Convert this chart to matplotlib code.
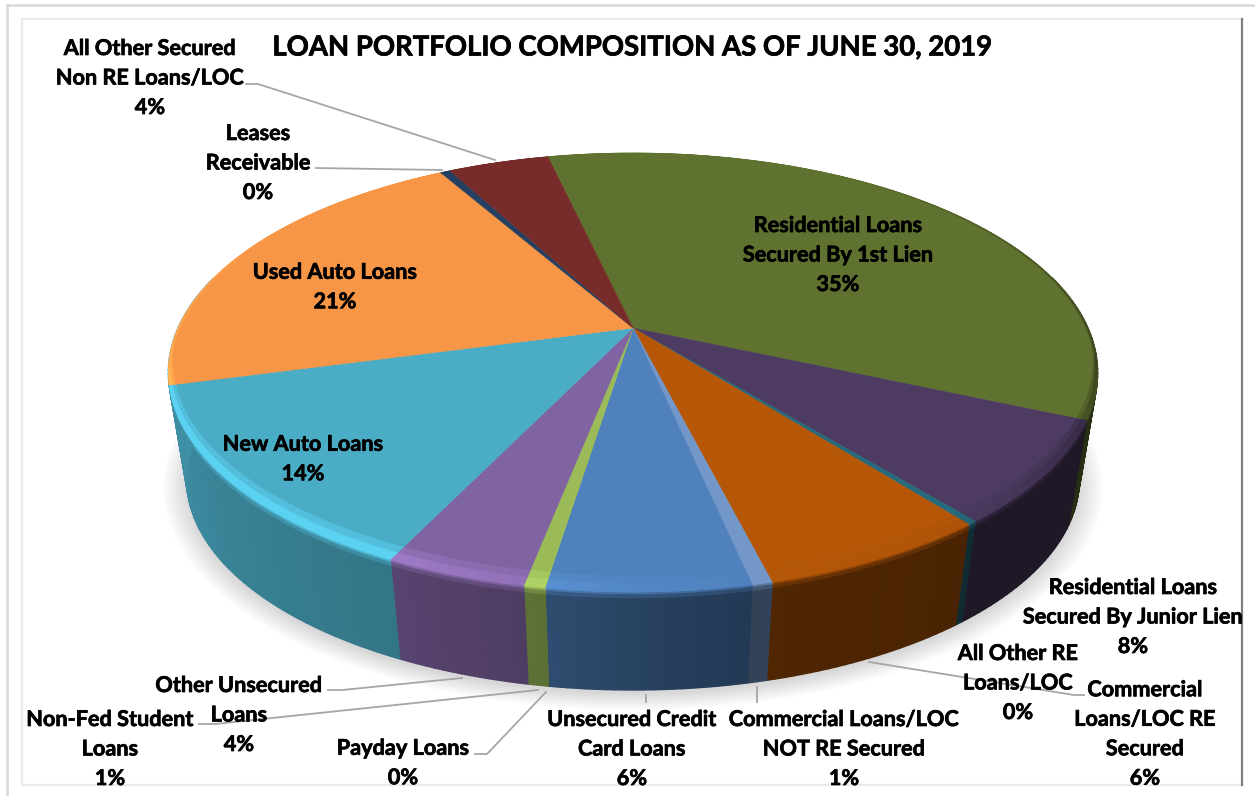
import numpy as np
import matplotlib
matplotlib.use("Agg")
import matplotlib.pyplot as plt
import matplotlib.patheffects as pe
from matplotlib.collections import PolyCollection
from matplotlib.colors import to_rgb

# slices clockwise, starting from the first-lien slice
CATEGORIES = [
    "Residential Loans\nSecured By 1st Lien",
    "Residential Loans\nSecured By Junior Lien",
    "All Other RE\nLoans/LOC",
    "Commercial\nLoans/LOC RE\nSecured",
    "Commercial Loans/LOC\nNOT RE Secured",
    "Unsecured Credit\nCard Loans",
    "Payday Loans",
    "Non-Fed Student\nLoans",
    "Other Unsecured\nLoans",
    "New Auto Loans",
    "Used Auto Loans",
    "Leases\nReceivable",
    "All Other Secured\nNon RE Loans/LOC",
]
SHARES = [35.2, 7.46, 0.28, 6.7, 0.58, 5.84, 0.01, 0.6, 4.1, 13.67, 20.86, 0.42, 4.26]
PCT_LABELS = ["35%", "8%", "0%", "6%", "1%", "6%", "0%", "1%", "4%", "14%", "21%", "0%", "4%"]
COLORS = [
    "#60722F", "#4D3B62", "#276A7C", "#B65708", "#7297C8", "#4F81BD", "#9BBB59",
    "#9BBB59", "#8064A2", "#4BACC6", "#F79646", "#254061", "#772C2A",
]
TITLE = "LOAN PORTFOLIO COMPOSITION AS OF JUNE 30, 2019"

# label centre (x, y) per slice, same order as CATEGORIES
LABEL_POS = [
    (838, 255), (1133, 617), (1018, 683), (1145, 734), (844, 749), (632, 749), (403, 763),
    (110, 749), (239, 715), (303, 459), (335, 287), (258, 163), (150, 78),
]
LEADERS = [
    [(246, 84), (258, 84), (495, 160)],
    [(316, 168), (442, 170)],
    [(328, 690), (342, 690), (462, 678)],
    [(199, 724), (215, 724), (538, 690)],
    [(475, 754), (487, 754), (546, 692)],
    [(646, 695), (646, 702)],
    [(757, 687), (757, 702)],
    [(869, 662), (1074, 695), (1084, 695)],
]

START_ANGLE = 102.95
HUB_X = 633
TILT = 0.2028
TOP_RX, TOP_RY, TOP_Y = 455, 210.5, 328
BOT_RX, BOT_RY, BOT_Y = 437, 202, 436.6

SHADE_ANGLES = [-180, -165, -115, -100, -88, -77, -50, -10, 20, 60, 150, 180]
SIDE_SHADE = [0.85, 0.82, 0.68, 0.6, 0.5, 0.44, 0.4, 0.4, 0.4, 0.4, 0.85, 0.85]
RIM_SHADE = [1.12, 1.22, 1.22, 1.12, 1.04, 1.0, 0.95, 0.6, 0.75, 1.0, 1.0, 1.12]


def project(t, r, rx, ry, y0):
    px = r * np.cos(t)
    py = r * np.sin(t)
    w = 1 + TILT * py
    return HUB_X + rx * px / w, y0 - ry * py / w


def top_point(t, depth=1.0):
    # bevel is deep at the front of the pie and almost nothing at the sides
    r = 1 - depth * max(0.005, 0.05 * max(0.0, -np.sin(t)))
    return project(t, r, TOP_RX, TOP_RY, TOP_Y)


def shade(color, f):
    return tuple(min(c * f, 1.0) for c in to_rgb(color))


def side_colors(deg):
    a = (deg + 180) % 360 - 180
    return (
        np.interp(a, SHADE_ANGLES, RIM_SHADE),
        np.interp(a, SHADE_ANGLES, SIDE_SHADE),
    )


def draw_pie(ax):
    # soft shadow under the lower edge
    t = np.radians(np.linspace(0, 360, 361))
    for s in np.linspace(1.05, 1.0, 10):
        x, y = project(t, s, BOT_RX, BOT_RY, BOT_Y)
        ax.fill(x, y + 4, color="black", alpha=0.016, lw=0, zorder=1)

    shares = np.array(SHARES)
    edges = START_ANGLE - np.concatenate([[0], np.cumsum(shares)]) * 360 / shares.sum()

    side_polys, side_cols = [], []
    rim_polys, rim_cols = [], []
    rows = [0.0, 0.03, 0.07, 1.0]
    for i, color in enumerate(COLORS):
        a0, a1 = edges[i], edges[i + 1]
        n = max(int(abs(a1 - a0)), 1)
        degs = np.linspace(a0, a1, n + 1)

        # the wall left of the new auto slice is seen in the new auto colour
        wall_color = COLORS[9] if i == 10 else color

        # top face
        arc = np.radians(np.linspace(a0, a1, n * 2 + 1))
        x, y = project(arc, 1.0, TOP_RX, TOP_RY, TOP_Y)
        ax.fill(
            np.r_[HUB_X, x], np.r_[TOP_Y, y], color=color, ec=color, lw=0.4, zorder=4
        )

        for d0, d1 in zip(degs[:-1], degs[1:]):
            mid = (d0 + d1) / 2
            rim_f, side_f = side_colors(mid)
            t0, t1 = np.radians(d0), np.radians(d1)

            xt0, yt0 = project(t0, 1.0, TOP_RX, TOP_RY, TOP_Y)
            xt1, yt1 = project(t1, 1.0, TOP_RX, TOP_RY, TOP_Y)

            # two bands of bevel, the outer one stronger
            for dep0, dep1, k in [(1.0, 0.55, 0.5), (0.55, 0.0, 1.0)]:
                rim_polys.append([
                    top_point(t0, dep0), top_point(t1, dep0),
                    top_point(t1, dep1), top_point(t0, dep1),
                ])
                rim_cols.append(shade(color, 1 + (rim_f - 1) * k))

            if np.sin(np.radians(mid)) > 0.25:
                continue
            # wall between the top and the bottom ring
            xb0, yb0 = project(t0, 1.0, BOT_RX, BOT_RY, BOT_Y)
            xb1, yb1 = project(t1, 1.0, BOT_RX, BOT_RY, BOT_Y)
            for j in range(len(rows) - 1):
                f0, f1 = rows[j], rows[j + 1]
                side_polys.append([
                    (xt0 + (xb0 - xt0) * f0, yt0 + (yb0 - yt0) * f0),
                    (xt1 + (xb1 - xt1) * f0, yt1 + (yb1 - yt1) * f0),
                    (xt1 + (xb1 - xt1) * f1, yt1 + (yb1 - yt1) * f1),
                    (xt0 + (xb0 - xt0) * f1, yt0 + (yb0 - yt0) * f1),
                ])
                w = [0.35, 0.75, 1.0][j]
                side_cols.append(shade(wall_color, rim_f + (side_f - rim_f) * w))

    ax.add_collection(
        PolyCollection(side_polys, facecolors=side_cols, edgecolors=side_cols, lw=1.0, zorder=3)
    )
    ax.add_collection(
        PolyCollection(rim_polys, facecolors=rim_cols, edgecolors=rim_cols, lw=0.4, zorder=5)
    )


def draw_frame(ax):
    ax.plot([7, 7], [796, 5], color="#DCDCDC", lw=2, zorder=0)
    ax.plot([7, 1255], [5, 5], color="#DCDCDC", lw=2, zorder=0)
    ax.plot([1242, 22, 22, 1242], [19, 19, 785, 785], color="#EBEBEB", lw=1.6, zorder=0)
    ax.plot([1242, 1242], [19, 785], color="#7F7F7F", lw=1.6, zorder=0)


def main():
    fig = plt.figure(figsize=(12.55, 7.96), dpi=100)
    ax = fig.add_axes([0, 0, 1, 1])
    ax.set_xlim(0, 1255)
    ax.set_ylim(796, 0)
    ax.axis("off")

    draw_frame(ax)
    draw_pie(ax)

    for pts in LEADERS:
        xs, ys = zip(*pts)
        ax.plot(xs, ys, color="#A6A6A6", lw=1.3, zorder=6)

    thick = [pe.withStroke(linewidth=0.5, foreground="black")]
    for name, pct, (x, y) in zip(CATEGORIES, PCT_LABELS, LABEL_POS):
        ax.text(
            x, y, f"{name}\n{pct}", ha="center", va="center", family="Lato",
            weight="bold", fontsize=15.6, linespacing=1.5, color="black", zorder=7,
            path_effects=thick,
        )

    ax.text(632, 47.5, TITLE, ha="center", va="center", family="Lato", weight="bold",
            fontsize=19.8, color="black", zorder=7, path_effects=thick)

    fig.savefig("out.png", dpi=100)


if __name__ == "__main__":
    main()
